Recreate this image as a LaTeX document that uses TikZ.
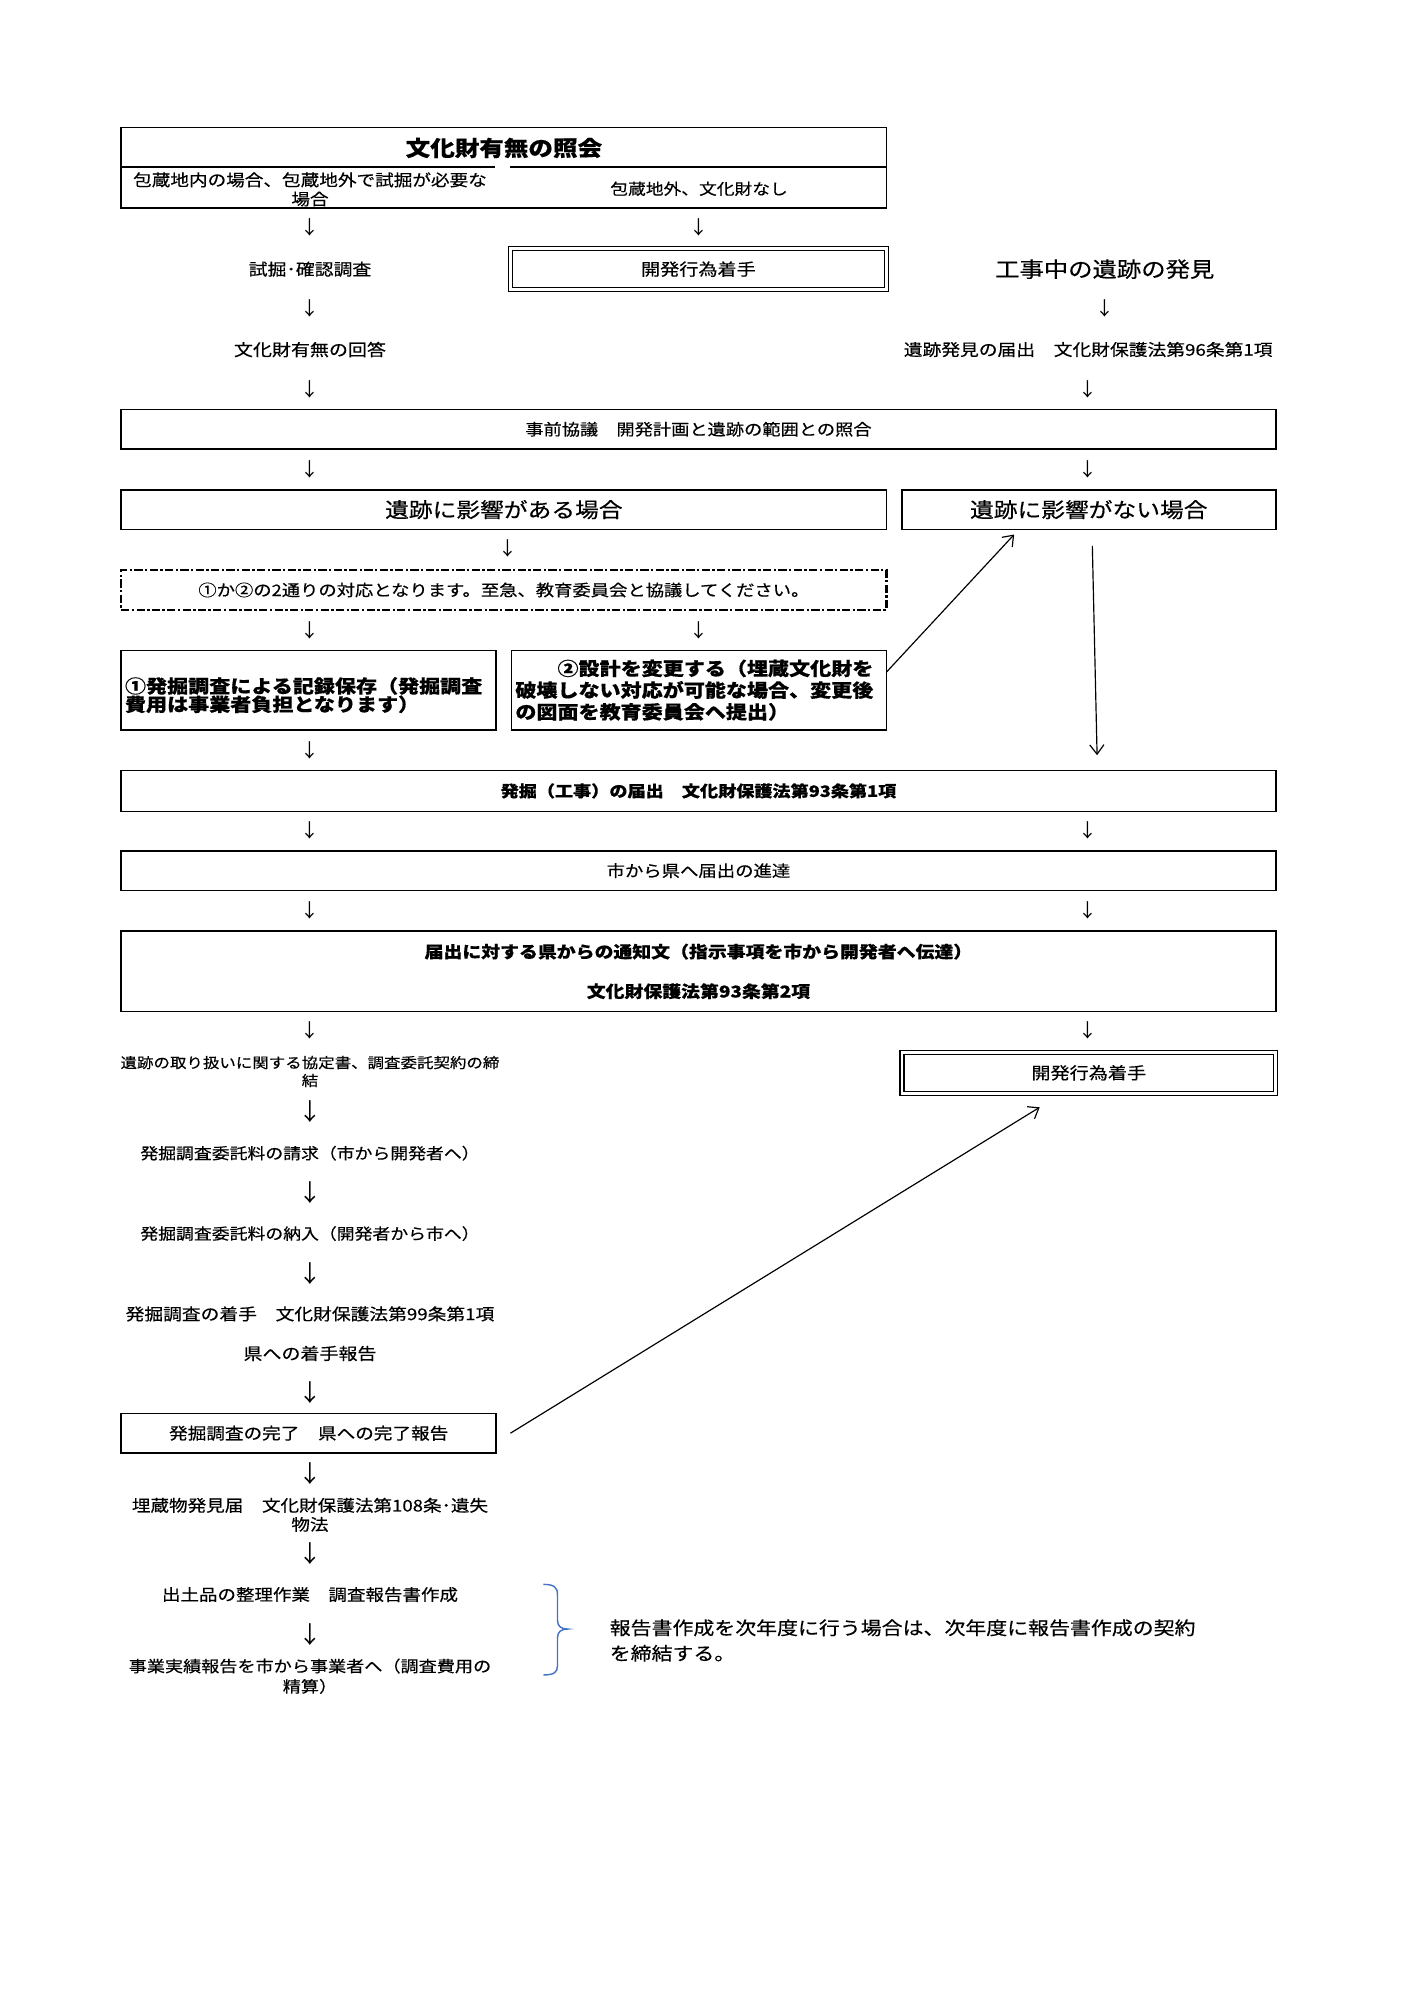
\documentclass[tikz,border=0pt]{standalone}
\usepackage{fontspec}
\usetikzlibrary{arrows.meta,calc}
\newfontfamily\jn{Noto Sans CJK JP}
\newfontfamily\jw[FakeStretch=1.15,FakeBold=0.4]{Noto Sans CJK JP}
\newcommand\nolsk{\lineskiplimit=-20pt\relax}
\tikzset{
  every node/.style={inner sep=0pt, outer sep=0pt},
  wh/.style 2 args={minimum width=#1*0.5407pt, minimum height=#2*0.5407pt},
  box/.style={draw, rectangle, line width=0.7pt},
  dbox/.style={draw, rectangle, line width=0.55pt, double, double distance=1.1pt},
  dashbox/.style={draw, rectangle, line width=1pt, dash pattern=on 3.5pt off 1pt on 1pt off 1pt},
  fw/.style={font=\jw\fontsize{#1}{#1}\selectfont},
  fwb/.style={font=\jw\bfseries\fontsize{#1}{#1}\selectfont},
  dn/.style={font=\jn\fontsize{8}{8}\selectfont},
  dB/.style={font=\jn\fontsize{10}{10}\selectfont},
  con/.style={-{Straight Barb[length=4pt,width=6pt]}, line width=0.5pt},
}
\begin{document}
\begin{tikzpicture}[x=0.5407pt,y=-0.5407pt]
\path[fill=white] (0,0) rectangle (1107.7,1567.8);
\useasboundingbox (0,0) rectangle (1107.7,1567.8);

% top box
\node[box, wh={600}{63}] (top) at (395,131.5) {};
\node[fwb=9.05] (t0) at (395,116) {文化財有無の照会};
\draw[line width=0.7pt] (95,131) -- (388,131);
\draw[line width=0.7pt] (400,131) -- (695,131);
\node[align=center, font={\jw\fontsize{6.86}{8.1}\selectfont\nolsk}] (t1) at (243,148.5) {包蔵地内の場合、包蔵地外で試掘が必要な\\場合};
\node[fw=6.54] (t2) at (548,148) {包蔵地外、文化財なし};

\node[dn] (d1) at (243,178) {↓};
\node[dn] (d2) at (548,178) {↓};
\node[fw=6.95] (s1) at (243,211) {試掘･確認調査};
\node[dbox, wh={295}{32}, fw=7.05] (k1) at (547.5,211) {開発行為着手};
\node[fw=8.98] (kj) at (866,211) {工事中の遺跡の発見};
\node[dn] (d3) at (243,242) {↓};
\node[dn] (d4) at (866,242) {↓};
\node[fw=7.0] (s2) at (243,274) {文化財有無の回答};
\node[fw=6.91] (s3) at (853,274) {遺跡発見の届出　文化財保護法第96条第1項};
\node[dn] (d5) at (243,305) {↓};
\node[dn] (d6) at (853,305) {↓};
\node[box, wh={905}{31}, fw=6.72] (jz) at (547.5,336.5) {事前協議　開発計画と遺跡の範囲との照合};
\node[dn] (d7) at (243,368) {↓};
\node[dn] (d8) at (853,368) {↓};
\node[box, wh={600}{31}, fw=8.75] (ea) at (395,399.5) {遺跡に影響がある場合};
\node[box, wh={293}{31}, fw=8.75] (na) at (853.5,399.5) {遺跡に影響がない場合};
\node[dn] (d9) at (398,430) {↓};
\node[dashbox, wh={600}{31}, fw=6.75] (ds) at (395,462.5) {①か②の2通りの対応となります。至急、教育委員会と協議してください。};
\node[dn] (d10) at (243,494) {↓};
\node[dn] (d11) at (548,494) {↓};
\node[box, wh={294}{62}, text width=288*0.5407pt, align=left, text depth=8*0.5407pt, font={\jw\bfseries\fontsize{7.76}{7.76}\selectfont\nolsk}] (b1) at (242,541) {①発掘調査による記録保存（発掘調査\\費用は事業者負担となります）};
\node[box, wh={294}{62}, text width=288*0.5407pt, align=left, font={\jw\bfseries\fontsize{7.76}{9.2}\selectfont\nolsk}] (b2) at (548,541) {　　②設計を変更する（埋蔵文化財を\\破壊しない対応が可能な場合、変更後\\の図面を教育委員会へ提出）};

\coordinate (a1) at (795,419);
\coordinate (a2) at (860,592);
\draw[con] ($(b2.north east)!0.27!(b2.south east)$) -- (a1);
\draw[con] ([xshift=1.5pt,yshift=-7pt]na.south) -- (a2);

\node[dn] (d12) at (243,588) {↓};
\node[box, wh={905}{32}, fwb=6.68] (hk) at (547.5,620) {発掘（工事）の届出　文化財保護法第93条第1項};
\node[dn] (d13) at (243,651) {↓};
\node[dn] (d14) at (853,651) {↓};
\node[box, wh={905}{31}, fw=6.77] (sk) at (547.5,682.5) {市から県へ届出の進達};
\node[dn] (d15) at (243,714) {↓};
\node[dn] (d16) at (853,714) {↓};
\node[box, wh={905}{63}, align=center, font={\jw\bfseries\fontsize{6.96}{16.8}\selectfont}] (tt) at (547.5,761.5) {届出に対する県からの通知文（指示事項を市から開発者へ伝達）\\文化財保護法第93条第2項};
\node[dn] (d17) at (243,808) {↓};
\node[dn] (d18) at (853,808) {↓};
\node[align=center, font={\jw\fontsize{6.07}{7.6}\selectfont\nolsk}] (s4) at (243,840) {遺跡の取り扱いに関する協定書、調査委託契約の締\\結};
\node[dbox, wh={293}{32}, fw=7.05] (k2) at (853.5,841) {開発行為着手};
\node[dB] (d19) at (243,871) {↓};
\node[fw=6.58] (s5) at (243,904) {発掘調査委託料の請求（市から開発者へ）};
\node[dB] (d20) at (243,935) {↓};
\node[fw=6.58] (s6) at (243,967) {発掘調査委託料の納入（開発者から市へ）};
\node[dB] (d21) at (243,998) {↓};
\node[fw=6.91] (s7) at (243,1030) {発掘調査の着手　文化財保護法第99条第1項};
\node[fw=7.0] (s8) at (243,1061) {県への着手報告};
\node[dB] (d22) at (243,1092) {↓};
\node[box, wh={294}{31}, fw=6.86] (kr) at (242,1123.5) {発掘調査の完了　県への完了報告};
\coordinate (a3) at (815,868);
\draw[con] ([xshift=6pt]kr.east) -- (a3);
\node[dB] (d23) at (243,1155) {↓};
\node[align=center, font={\jw\fontsize{6.85}{8.1}\selectfont\nolsk}] (s9) at (243,1187.5) {埋蔵物発見届　文化財保護法第108条･遺失\\物法};
\node[dB] (d24) at (243,1218) {↓};
\node[fw=6.82] (s10) at (243,1250) {出土品の整理作業　調査報告書作成};
\node[dB] (d25) at (243,1281) {↓};
\node[align=center, font={\jw\fontsize{6.68}{8.65}\selectfont\nolsk}] (s11) at (243,1314) {事業実績報告を市から事業者へ（調査費用の\\精算）};

% brace
\draw[color={rgb,255:red,68;green,114;blue,196}, line width=0.6pt]
  (426,1242) .. controls (434,1242) and (437,1244) .. (437,1250) -- (437,1270)
  .. controls (437,1275) and (440,1277) .. (445,1277)
  .. controls (440,1277) and (437,1279) .. (437,1284) -- (437,1306)
  .. controls (437,1311) and (434,1313) .. (426,1313);
\node[anchor=west, align=left, font={\jw\fontsize{7.71}{10.8}\selectfont\nolsk}] (s12) at (478,1286) {報告書作成を次年度に行う場合は、次年度に報告書作成の契約\\を締結する。};
\end{tikzpicture}
\end{document}
